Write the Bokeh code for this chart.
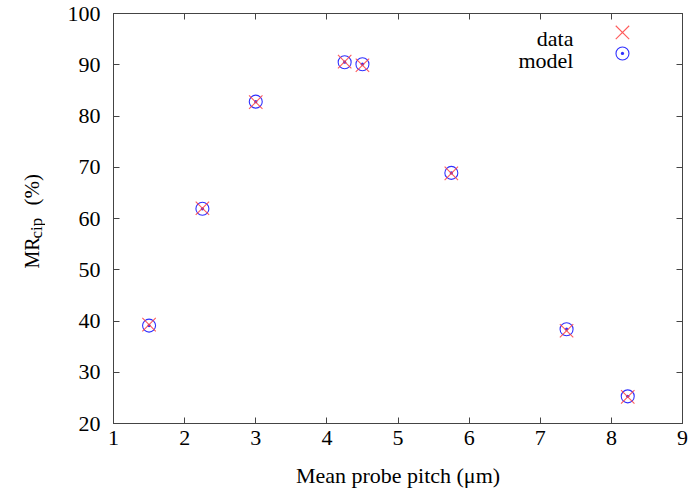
import math
from bokeh.plotting import figure
from bokeh.models import LinearAxis, Label, FixedTicker
from bokeh.layouts import row
from bokeh.core.properties import value
from bokeh.embed import file_html
from bokeh.resources import INLINE

# data
pitch = [1.5, 2.25, 3.0, 4.25, 4.5, 5.75, 7.37, 8.23]
mr_data = [39.3, 62.0, 82.7, 90.6, 89.9, 68.8, 38.1, 25.2]
mr_model = [39.1, 61.9, 82.8, 90.5, 90.1, 68.9, 38.4, 25.3]
x_ticks = [1, 2, 3, 4, 5, 6, 7, 8, 9]
y_ticks = [20, 30, 40, 50, 60, 70, 80, 90, 100]
x_label = "Mean probe pitch (\u03bcm)"
y_label_parts = ["MR", "cip", "(%)"]

FONT = "Liberation Serif"
FRAME = "#444444"
W, H = 689, 495
LW = 45          # width of the y-label strip
TOP, BOTTOM = 13, 72

# strip holding the rotated y-axis label (MR_cip (%)); its y data = H - page_y
lab = figure(width=LW, height=H, x_range=(0, LW), y_range=(BOTTOM, H - TOP),
             x_axis_type=None, y_axis_type=None, output_backend="svg",
             toolbar_location=None, min_border_left=0, min_border_right=0,
             min_border_top=TOP, min_border_bottom=BOTTOM)
lab.outline_line_color = None
lab.xgrid.visible = False
lab.ygrid.visible = False
ang = math.pi / 2
lab.text(x=[31], y=[H - 268], text=[y_label_parts[0]], angle=ang,
         text_align="left", text_baseline="alphabetic", text_font=value(FONT),
         text_font_size="20px", text_color="black")
lab.text(x=[36], y=[H - 238], text=[y_label_parts[1]], angle=ang,
         text_align="left", text_baseline="alphabetic", text_font=value(FONT),
         text_font_size="17px", text_color="black")
lab.text(x=[31], y=[H - 205], text=[y_label_parts[2]], angle=ang,
         text_align="left", text_baseline="alphabetic", text_font=value(FONT),
         text_font_size="21px", text_color="black")

p = figure(width=W - LW, height=H, x_range=(1, 9), y_range=(20, 100),
           output_backend="svg", toolbar_location=None,
           min_border_left=113 - LW, min_border_right=7, min_border_top=TOP,
           min_border_bottom=BOTTOM)
p.xgrid.visible = False
p.ygrid.visible = False
p.outline_line_color = FRAME

for ax in (p.xaxis[0], p.yaxis[0]):
    ax.major_tick_in = 6
    ax.major_tick_out = 0
    ax.minor_tick_in = 0
    ax.minor_tick_out = 0
    ax.axis_line_color = FRAME
    ax.major_tick_line_color = FRAME
    ax.major_label_text_font = FONT
    ax.major_label_text_font_size = "22px"
    ax.major_label_text_color = "black"

p.xaxis[0].ticker = FixedTicker(ticks=x_ticks)
p.yaxis[0].ticker = FixedTicker(ticks=y_ticks)
p.xaxis[0].major_label_standoff = 7
p.yaxis[0].major_label_standoff = 13
p.xaxis[0].axis_label = x_label
p.xaxis[0].axis_label_text_font = FONT
p.xaxis[0].axis_label_text_font_size = "22px"
p.xaxis[0].axis_label_text_font_style = "normal"
p.xaxis[0].axis_label_text_color = "black"
p.xaxis[0].axis_label_standoff = 15

# mirrored tick marks on the top and right edges (no labels)
top = LinearAxis(ticker=FixedTicker(ticks=x_ticks),
                 major_label_overrides={t: "" for t in x_ticks},
                 major_tick_in=6, major_tick_out=0, minor_tick_in=0, minor_tick_out=0,
                 axis_line_color=FRAME, major_tick_line_color=FRAME,
                 major_label_standoff=0)
right = LinearAxis(ticker=FixedTicker(ticks=y_ticks),
                   major_label_overrides={t: "" for t in y_ticks},
                   major_tick_in=6, major_tick_out=0, minor_tick_in=0, minor_tick_out=0,
                   axis_line_color=FRAME, major_tick_line_color=FRAME,
                   major_label_standoff=0)
p.add_layout(top, "above")
p.add_layout(right, "right")

# markers
p.scatter(pitch, mr_model, marker="circle_dot", size=13, fill_color=None,
          line_color="#3030ff", line_width=1.1)
p.scatter(pitch, mr_data, marker="x", size=19, line_color="#ff4040", line_width=1.1,
          line_alpha=0.85)

# legend (gnuplot style: text right-aligned, key to its right)
p.scatter([8.156], [96.3], marker="x", size=19, line_color="#ff4040", line_width=1.1,
          line_alpha=0.85)
p.scatter([8.156], [92.2], marker="circle_dot", size=13, fill_color=None,
          line_color="#3030ff", line_width=1.1)
p.add_layout(Label(x=7.467, y=95.12, text="data", text_align="right",
                   text_baseline="alphabetic", text_font=FONT, text_font_size="22px",
                   text_color="black"))
p.add_layout(Label(x=7.467, y=90.83, text="model", text_align="right",
                   text_baseline="alphabetic", text_font=FONT, text_font_size="22px",
                   text_color="black"))

layout = row(lab, p, spacing=0)
open("out.html", "w").write(file_html(layout, INLINE))
